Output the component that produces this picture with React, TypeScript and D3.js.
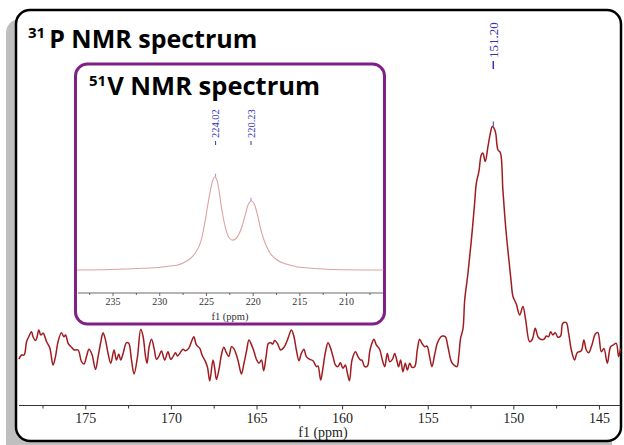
import React from "react";
import * as d3 from "d3";

// ---- 31P spectrum (ppm, relative intensity) ----
const pPpm = [178.91,178.75,178.6,178.46,178.33,178.17,178.08,177.94,177.86,177.74,177.63,177.49,177.29,177.1,176.91,176.77,176.62,176.42,176.28,176.18,176.03,175.83,175.68,175.45,175.25,175.1,174.96,174.81,174.63,174.43,174.28,174.12,173.99,173.85,173.7,173.54,173.35,173.21,173.07,172.96,172.82,172.62,172.49,172.33,172.18,171.98,171.79,171.65,171.51,171.42,171.3,171.16,171.01,170.87,170.74,170.58,170.39,170.2,170.04,169.9,169.76,169.65,169.51,169.32,169.18,168.99,168.83,168.69,168.54,168.34,168.21,168.01,167.89,167.76,167.57,167.47,167.37,167.22,167.08,166.94,166.79,166.65,166.49,166.36,166.2,166.07,165.91,165.76,165.6,165.47,165.29,165.17,165.02,164.88,164.74,164.61,164.47,164.33,164.2,164.08,163.97,163.81,163.62,163.42,163.19,162.99,162.84,162.7,162.55,162.41,162.26,162.12,161.92,161.73,161.53,161.44,161.28,161.15,161.01,160.85,160.7,160.56,160.42,160.27,160.13,159.98,159.84,159.72,159.6,159.45,159.25,159.1,158.96,158.87,158.71,158.55,158.42,158.29,158.17,158.03,157.84,157.68,157.54,157.39,157.25,157.09,156.96,156.83,156.73,156.61,156.48,156.34,156.22,156.08,155.95,155.79,155.64,155.5,155.37,155.21,155.07,154.92,154.78,154.63,154.47,154.33,154.18,154.0,153.85,153.65,153.5,153.32,153.22,153.11,152.97,152.87,152.68,152.48,152.29,152.19,152.04,151.9,151.81,151.67,151.51,151.37,151.26,151.16,151.06,150.93,150.79,150.64,150.48,150.29,150.15,150.05,149.86,149.66,149.47,149.31,149.08,148.92,148.75,148.59,148.44,148.24,148.1,147.97,147.85,147.72,147.58,147.43,147.27,147.14,146.94,146.8,146.64,146.45,146.3,146.06,145.91,145.77,145.63,145.44,145.24,145.09,144.89,144.74,144.54,144.35,144.19,144.02,143.88,143.77];
const pInt = [-1.8,0,0,5.8,8.0,10.2,8.0,6.3,7.5,11.0,8.8,9.5,5.8,3.1,-4.4,-0.7,5.8,9.8,8.0,8.8,5.1,3.4,2.2,2.2,-2.9,-3.9,-0.7,2.5,0,-6.3,-0.7,5.8,9.8,6.6,0.7,-3.6,2.2,-2.2,0.4,-2.2,0.7,5.4,5.1,-2.2,-8.3,-0.7,11.3,8.0,-0.7,-3.6,3.6,6.9,2.9,-1.9,-0.7,1.8,-2.2,1.4,-1.9,-0.7,1.0,-0.4,0.7,2.5,1.9,2.9,5.8,8.0,4.4,2.9,0,-2.9,-5.4,-11.3,-2.2,-5.8,-10.7,-6.3,0,3.4,1.0,-0.7,3.6,2.9,0,-3.6,-8.3,-3.6,2.2,6.6,3.9,1.4,-2.2,-3.6,-2.2,-6.9,-0.7,5.1,5.4,4.8,6.3,5.1,2.2,3.4,7.3,11.0,8.0,2.2,-2.5,0.7,2.5,-0.7,-1.9,-2.5,-5.1,-4.8,-11.0,-5.8,1.0,5.4,2.9,-0.7,-4.4,-5.1,-3.4,-5.8,-4.4,-8.0,-11.3,-2.2,1.4,-0.7,-2.2,-2.2,-5.1,-4.8,1.4,5.1,6.9,4.4,2.5,-2.2,-5.1,0.7,-2.9,-1.9,0.7,-2.5,-5.1,-2.2,-7.3,-3.6,-6.6,-3.6,-5.4,-5.1,2.2,6.9,5.1,3.6,3.9,-0.7,-5.1,0,5.1,7.3,8.3,8.0,3.6,-2.9,-4.4,-5.1,-0.7,7.3,11.5,24.1,35.8,50.4,66.5,75.3,80.4,87.7,88.5,84.8,91.4,97.2,100.1,99.4,97.2,89.9,88.7,72.4,56.3,41.7,31.6,25.6,22.4,17.5,21.2,15.4,5.8,6.9,11.7,8.0,6.9,6.9,8.3,8.0,10.2,8.8,9.8,7.8,8.3,13.9,14.2,9.5,2.2,-2.2,1.0,1.9,6.6,2.2,1.0,4.4,9.2,9.8,1.4,2.9,-3.6,3.6,4.4,5.1,-0.7,2.9];

// ---- 51V spectrum (ppm, relative intensity) ----
const vPpm = [238.86,235.32,231.78,229.96,228.89,228.17,227.46,226.75,226.21,225.67,225.25,224.89,224.6,224.31,224.1,223.88,223.61,223.35,222.99,222.64,222.28,221.92,221.57,221.2,220.85,220.5,220.21,219.89,219.53,219.17,218.71,218.17,217.45,216.75,215.67,214.96,212.06,206.06];
const vInt = [0,0.5,1.8,2.9,4.3,5.0,7.8,12.1,17.9,28.6,46.4,67.8,83.9,96.5,100,96.5,82.2,64.3,46.4,35.7,32.2,32.9,37.5,46.4,58.9,70.7,74.3,70.7,58.9,42.9,28.6,17.9,10.7,7.2,4.3,2.9,0.8,0];

const mainTicks = [175, 170, 165, 160, 155, 150, 145];
const mainMinor = [177.5, 172.5, 167.5, 162.5, 157.5, 152.5, 147.5];
const insetTicks = [235, 230, 225, 220, 215, 210];
const insetMinor = [237.5, 232.5, 227.5, 222.5, 217.5, 212.5, 207.5];
const mainPeaks = [{ ppm: 151.2, label: "151.20", int: 100.1 }];
const insetPeaks = [
  { ppm: 224.02, label: "224.02", int: 100 },
  { ppm: 220.23, label: "220.23", int: 74.3 },
];

const serif = "'Liberation Serif', 'Times New Roman', serif";
const sans = "'Open Sans', 'DejaVu Sans', sans-serif";
const blue = "#3434b4";

export default function App() {
  const x = d3.scaleLinear().domain([178.9, 143.8]).range([19, 620]);
  const y = d3.scaleLinear().domain([0, 100]).range([355, 126.7]);
  const xi = d3.scaleLinear().domain([238.75, 206.1]).range([78, 383]);
  const yi = d3.scaleLinear().domain([0, 100]).range([270, 176.7]);

  const mainLine = d3
    .line<number>()
    .x((_, i) => x(pPpm[i]))
    .y((d) => y(d))
    .curve(d3.curveCatmullRom.alpha(0.5));
  const insetLine = d3
    .line<number>()
    .x((_, i) => xi(vPpm[i]))
    .y((d) => yi(d))
    .curve(d3.curveCatmullRom.alpha(0.5));

  const axisY = 405.5;
  const iAxisY = 293;

  return (
    <svg
      width={624}
      height={445}
      style={{ position: "absolute", left: 0, top: 0, background: "#fff" }}
    >
      {/* shadow + frame */}
      <rect x={6} y={19} width={606} height={440} rx={14} fill="#bfbfbf" />
      <rect x={16} y={10} width={605} height={431} rx={14} fill="#fff" stroke="#000" strokeWidth={2.5} />

      {/* main title */}
      <text x={28} y={48} fontFamily={sans} fontWeight={700} fill="#000">
        <tspan fontSize={15} dy={-10}>31</tspan>
        <tspan fontSize={25} dy={10} dx={4}>P NMR spectrum</tspan>
      </text>

      {/* main spectrum */}
      <path d={mainLine(pInt) || ""} fill="none" stroke="#a01c20" strokeWidth={1.5} strokeLinejoin="round" />

      {/* main axis */}
      <line x1={19} x2={620} y1={axisY} y2={axisY} stroke="#333" strokeWidth={1} />
      {mainTicks.map((t) => (
        <g key={t}>
          <line x1={x(t)} x2={x(t)} y1={axisY} y2={axisY + 4} stroke="#333" />
          <text x={x(t)} y={axisY + 17} textAnchor="middle" fontFamily={serif} fontSize={14} fill="#222">{t}</text>
        </g>
      ))}
      {mainMinor.map((t) => (
        <line key={t} x1={x(t)} x2={x(t)} y1={axisY} y2={axisY + 3} stroke="#333" />
      ))}
      <text x={323} y={437} textAnchor="middle" fontFamily={serif} fontSize={14} fill="#222">f1 (ppm)</text>

      {/* main peak labels */}
      {mainPeaks.map((p) => (
        <g key={p.label}>
          <line x1={x(p.ppm)} x2={x(p.ppm)} y1={y(p.int) - 5} y2={y(p.int)} stroke={blue} strokeWidth={1} />
          <line x1={x(p.ppm)} x2={x(p.ppm)} y1={61} y2={69} stroke={blue} strokeWidth={1.5} />
          <text
            transform={`translate(${x(p.ppm)},58) rotate(-90)`}
            dy="0.35em"
            fontFamily={serif}
            fontSize={13}
            fill={blue}
          >
            {p.label}
          </text>
        </g>
      ))}

      {/* inset box */}
      <rect x={75.5} y={64} width={309} height={260} rx={12} fill="#fff" stroke="#7f1f87" strokeWidth={3} />
      <text x={89} y={95} fontFamily={sans} fontWeight={700} fill="#000">
        <tspan fontSize={15} dy={-9}>51</tspan>
        <tspan fontSize={25.5} dy={9} dx={1}>V NMR spectrum</tspan>
      </text>

      {/* inset spectrum */}
      <path d={insetLine(vInt) || ""} fill="none" stroke="#dca2a2" strokeWidth={1.1} />

      {/* inset axis */}
      <line x1={78} x2={383} y1={iAxisY} y2={iAxisY} stroke="#444" strokeWidth={0.8} />
      {insetTicks.map((t) => (
        <g key={t}>
          <line x1={xi(t)} x2={xi(t)} y1={iAxisY} y2={iAxisY + 3} stroke="#444" strokeWidth={0.8} />
          <text x={xi(t)} y={iAxisY + 12} textAnchor="middle" fontFamily={serif} fontSize={10} fill="#333">{t}</text>
        </g>
      ))}
      {insetMinor.map((t) => (
        <line key={t} x1={xi(t)} x2={xi(t)} y1={iAxisY} y2={iAxisY + 2} stroke="#444" strokeWidth={0.8} />
      ))}
      <text x={230} y={320} textAnchor="middle" fontFamily={serif} fontSize={10.5} fill="#333">f1 (ppm)</text>

      {/* inset peak labels */}
      {insetPeaks.map((p) => (
        <g key={p.label}>
          <line x1={xi(p.ppm)} x2={xi(p.ppm)} y1={yi(p.int) - 3} y2={yi(p.int)} stroke="#8f8fe0" strokeWidth={1} />
          <line x1={xi(p.ppm)} x2={xi(p.ppm)} y1={141} y2={145} stroke={blue} strokeWidth={1} />
          <text
            transform={`translate(${xi(p.ppm)},138) rotate(-90)`}
            dy="0.35em"
            fontFamily={serif}
            fontSize={10.5}
            fill={blue}
          >
            {p.label}
          </text>
        </g>
      ))}
    </svg>
  );
}
